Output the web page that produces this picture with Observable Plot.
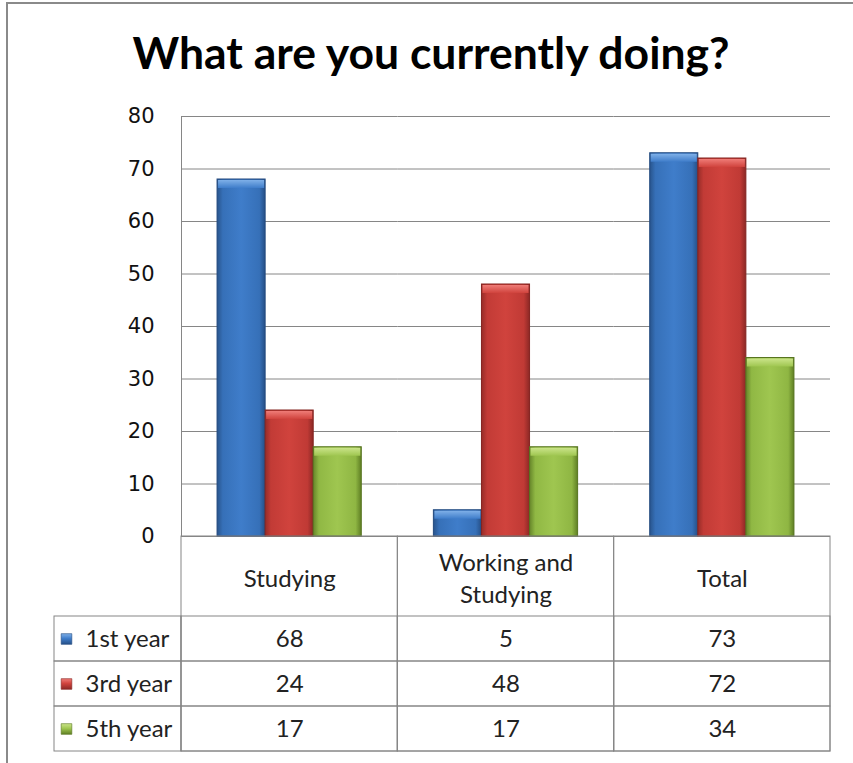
<!DOCTYPE html>
<html><head><meta charset="utf-8">
<script src="https://cdn.jsdelivr.net/npm/d3@7"></script>
<script src="https://cdn.jsdelivr.net/npm/@observablehq/plot@0.6"></script>
<style>
body{margin:0;background:#fff;}
#page{position:relative;width:853px;height:763px;overflow:hidden;background:#fff;}
#frame{position:absolute;left:6px;top:2px;width:900px;height:800px;border-left:2px solid #8a8a8a;border-top:2px solid #8a8a8a;}
#title{position:absolute;left:8px;width:846px;top:30px;text-align:center;font-family:Lato,sans-serif;font-weight:bold;font-size:44.5px;line-height:1;color:#000;white-space:nowrap;}
.abs{position:absolute;left:0;}
.bars g[aria-label="y-axis tick label"] text{font-size:21px;font-family:'DejaVu Sans';}
</style></head>
<body><div id="page"><div id="frame"></div><div id="title">What are you currently doing?</div></div>
<script>
// ---- data ----
const categories = ["Studying", "Working and Studying", "Total"];
const headerLabels = ["Studying", "Working and\nStudying", "Total"];
const seriesNames = ["1st year", "3rd year", "5th year"];
const firstYear = [68, 5, 73];
const thirdYear = [24, 48, 72];
const fifthYear = [17, 17, 34];
const yTicks = [0, 10, 20, 30, 40, 50, 60, 70, 80];

const seriesValues = [firstYear, thirdYear, fifthYear];
const tableData = [];
seriesNames.forEach((s, i) => categories.forEach((c, j) => tableData.push({series: s, category: c, value: seriesValues[i][j]})));

// ---- styles ----
const bodyStops = [
  ["#28548c", "#3670b8", "#3f7dca", "#3670b8", "#264f86"],
  ["#962c28", "#c23b36", "#d0433d", "#c03a35", "#8c2825"],
  ["#66862a", "#90b844", "#9fc650", "#8fb643", "#5f7f24"]
];
const capStops = [["#7fb0e8", "#3f7dca"], ["#ef7c77", "#d0433d"], ["#cbe48a", "#9fc650"]];
const edgeColors = ["#22497f", "#842421", "#57741f"];
function defs(prefix) {
  let s = "<defs>";
  bodyStops.forEach((st, i) => {
    s += `<linearGradient id="${prefix}b${i}" x1="0" x2="1" y1="0" y2="0">` +
      [0, 0.12, 0.5, 0.88, 1].map((o, k) => `<stop offset="${o}" stop-color="${st[k]}"/>`).join("") + `</linearGradient>`;
    s += `<linearGradient id="${prefix}c${i}" x1="0" x2="0" y1="0" y2="1"><stop offset="0" stop-color="${capStops[i][0]}"/><stop offset="1" stop-color="${capStops[i][1]}"/></linearGradient>`;
    s += `<linearGradient id="${prefix}s${i}" x1="0" x2="0" y1="0" y2="1"><stop offset="0" stop-color="${capStops[i][0]}"/><stop offset="0.45" stop-color="${bodyStops[i][2]}"/><stop offset="1" stop-color="${bodyStops[i][4]}"/></linearGradient>`;
  });
  return s + "</defs>";
}

const W = 853;
const grid = "#868686";

// ---- bar chart ----
const barMarks = [
  Plot.gridY(yTicks, {stroke: grid, strokeOpacity: 1}),
  Plot.frame({anchor: "left", facetAnchor: "left", stroke: grid}),
  Plot.axisY(yTicks, {tickSize: 0, tickPadding: 27, fontSize: 21, fill: "#111", label: null})
];
seriesNames.forEach((s, i) => {
  const d = tableData.filter(r => r.series === s);
  barMarks.push(Plot.barY(d, {fx: "category", x: "series", y: "value", fill: `url(#pb${i})`, stroke: edgeColors[i], strokeWidth: 1}));
  barMarks.push(Plot.barY(d, {fx: "category", x: "series", y1: "value", y2: "value", insetBottom: -9, insetLeft: 1, insetRight: 1, insetTop: 1, fill: `url(#pc${i})`}));
});
const barPlot = Plot.plot({
  width: W, height: 437,
  marginLeft: 181, marginRight: 23, marginTop: 16, marginBottom: 1,
  style: {fontFamily: "'DejaVu Sans'", fontSize: "21px", color: "#111", background: "transparent", overflow: "visible"},
  fx: {domain: categories, padding: 0, axis: null, round: false, label: null},
  x: {domain: seriesNames, paddingInner: 0, paddingOuter: 0.75, axis: null, round: false},
  y: {domain: [0, 80], axis: null, label: null},
  marks: barMarks
});
barPlot.insertAdjacentHTML("afterbegin", defs("p"));
barPlot.classList.add("abs", "bars");
barPlot.style.top = "100px";

// ---- legend column of the data table ----
const legendMarks = [
  Plot.cell(seriesNames, {y: d => d, fill: "none", stroke: grid}),
  Plot.text(seriesNames, {y: d => d, frameAnchor: "left", dx: 31, textAnchor: "start", fontSize: 24})
];
seriesNames.forEach((s, i) => {
  legendMarks.push(Plot.dot([s], {y: d => d, frameAnchor: "left", dx: 12, symbol: "square", r: 6, fill: `url(#ls${i})`, stroke: edgeColors[i], strokeWidth: 0.6}));
});
const legendPlot = Plot.plot({
  width: 181, height: 217,
  marginLeft: 54, marginRight: 0, marginTop: 80, marginBottom: 2,
  style: {fontFamily: "Lato", fontSize: "24px", color: "#222", background: "transparent", overflow: "visible"},
  y: {domain: seriesNames, padding: 0, axis: null, round: false},
  marks: legendMarks
});
legendPlot.insertAdjacentHTML("afterbegin", defs("l"));
legendPlot.classList.add("abs");
legendPlot.style.top = "536px";

// ---- data table ----
const tablePlot = Plot.plot({
  width: W, height: 217,
  marginLeft: 181, marginRight: 23, marginTop: 80, marginBottom: 2,
  style: {fontFamily: "Lato", fontSize: "24px", color: "#222", background: "transparent", overflow: "visible"},
  x: {domain: categories, padding: 0, axis: null, round: false},
  y: {domain: seriesNames, padding: 0, axis: null, round: false},
  marks: [
    Plot.cell(categories, {x: d => d, insetTop: -80, fill: "none", stroke: grid}),
    Plot.cell(tableData, {x: "category", y: "series", fill: "none", stroke: grid}),
    Plot.text(categories, {x: d => d, text: (d, i) => headerLabels[i], frameAnchor: "top", dy: -40, lineAnchor: "middle", lineHeight: 1.33, fontSize: 24}),
    Plot.text(tableData, {x: "category", y: "series", text: "value", fontSize: 24})
  ]
});
tablePlot.classList.add("abs");
tablePlot.style.top = "536px";

const page = document.getElementById("page");
page.appendChild(barPlot);
page.appendChild(legendPlot);
page.appendChild(tablePlot);
</script>
</body></html>
